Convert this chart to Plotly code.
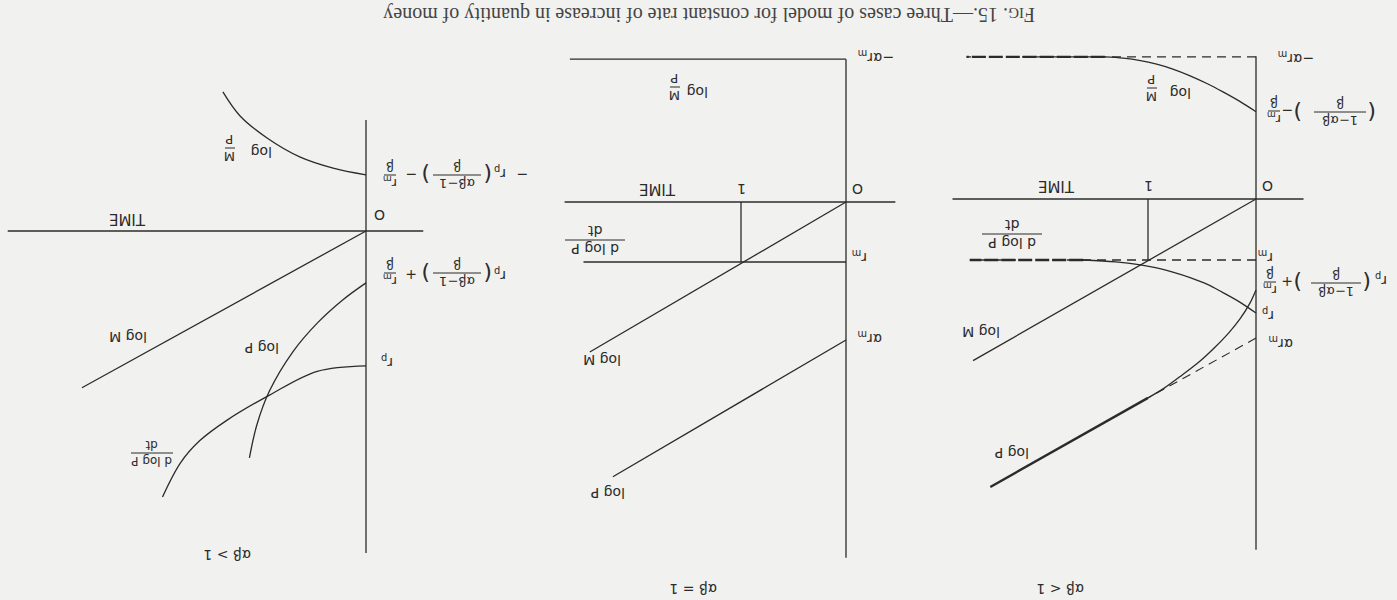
import plotly.graph_objects as go

W, H = 1397, 600
INK = "#2b2b2b"
PAPER = "#f1f1ef"
LABEL_FONT = "DejaVu Sans"
CAPTION_FONT = "Liberation Serif"

# --- data: t in time units, values in units of r_m ---

# alpha*beta < 1 (right-hand panel of the page)
lt1_axis_t = [0, 0]
lt1_axis_v = [-2.34, 5.75]
lt1_time_t = [-0.44, 2.81]
lt1_time_v = [0, 0]
lt1_one_t = [1, 1]
lt1_one_v = [0, 1.0]
lt1_logm_t = [0, 2.62]
lt1_logm_v = [0, 2.65]
lt1_rm_t = [0, 2.65]
lt1_rm_v = [1.0, 1.0]
lt1_negarm_t = [0, 2.68]
lt1_negarm_v = [-2.33, -2.33]
lt1_mp_t = [0, 0.15, 0.31, 0.45, 0.61, 0.77, 0.92, 1.07, 1.23, 1.40]
lt1_mp_v = [-1.43, -1.60, -1.76, -1.89, -2.02, -2.13, -2.21, -2.27, -2.31, -2.33]
lt1_mp_tail_t = [1.40, 2.68]
lt1_mp_tail_v = [-2.33, -2.33]
lt1_dp_t = [0, 0.15, 0.31, 0.45, 0.61, 0.77, 0.92, 1.07, 1.30, 1.60]
lt1_dp_v = [1.87, 1.69, 1.53, 1.40, 1.29, 1.20, 1.13, 1.08, 1.03, 1.0]
lt1_dp_tail_t = [1.60, 2.65]
lt1_dp_tail_v = [1.0, 1.0]
lt1_logp_t = [0, 0.06, 0.15, 0.25, 0.38, 0.52, 0.68, 0.85, 1.0]
lt1_logp_v = [1.49, 1.72, 1.97, 2.19, 2.43, 2.66, 2.88, 3.10, 3.26]
lt1_logp_tail_t = [1.0, 2.46]
lt1_logp_tail_v = [3.26, 4.72]
lt1_asym_t = [0, 1.0]
lt1_asym_v = [2.28, 3.26]

# alpha*beta = 1 (middle panel)
eq1_axis_t = [0, 0]
eq1_axis_v = [-2.38, 5.93]
eq1_time_t = [-0.47, 2.68]
eq1_time_v = [0, 0]
eq1_one_t = [1, 1]
eq1_one_v = [0, 1.0]
eq1_logm_t = [0, 2.44]
eq1_logm_v = [0, 2.5]
eq1_rm_t = [0, 2.5]
eq1_rm_v = [1.0, 1.0]
eq1_mp_t = [0, 2.63]
eq1_mp_v = [-2.38, -2.38]
eq1_logp_t = [0, 2.22]
eq1_logp_v = [2.30, 4.58]

# alpha*beta > 1 (left-hand panel of the page)
gt1_axis_t = [0, 0]
gt1_axis_v = [-1.82, 5.28]
gt1_time_t = [-0.54, 3.38]
gt1_time_v = [0, 0]
gt1_logm_t = [0, 2.68]
gt1_logm_v = [0, 2.57]
gt1_mp_t = [0, 0.31, 0.62, 0.93, 1.19, 1.35]
gt1_mp_v = [-0.92, -1.03, -1.21, -1.52, -1.89, -2.28]
gt1_logp_t = [0, 0.22, 0.46, 0.69, 0.91, 1.03, 1.10]
gt1_logp_v = [0.85, 1.13, 1.51, 1.98, 2.62, 3.18, 3.72]
gt1_dp_t = [0, 0.46, 0.91, 1.31, 1.57, 1.75, 1.92]
gt1_dp_v = [2.21, 2.30, 2.69, 3.10, 3.44, 3.80, 4.36]

caption = "F<span style='font-size:15px'>IG</span>. 15.\u2014Three cases of model for constant rate of increase in quantity of money"

# panel origin (px) and px per unit; page is printed upside down so both axes run reversed
PANELS = {
    "": (1256, 199, 108, 61),
    "2": (846, 202, 105, 60),
    "3": (366, 231, 106, 61),
}


def add_line(fig, ax, t, v, dash="solid", width=1.3, smooth=False):
    fig.add_trace(go.Scatter(
        x=t, y=v, mode="lines",
        line=dict(color=INK, width=width, dash=dash, shape="spline" if smooth else "linear"),
        xaxis="x" + ax, yaxis="y" + ax, hoverinfo="skip", showlegend=False,
    ))


def label(fig, text, px, py, size=14, family=LABEL_FONT, color=INK):
    fig.add_annotation(
        x=px / W, y=1 - py / H, xref="paper", yref="paper", text=text,
        showarrow=False, textangle=180, xanchor="center", yanchor="middle",
        font=dict(size=size, color=color, family=family),
    )


def frac(fig, num, den, px, py, bar, size=13):
    label(fig, num + "<br>" + den, px, py, size)
    fig.add_shape(type="line", xref="paper", yref="paper",
                  x0=(px - bar / 2) / W, x1=(px + bar / 2) / W,
                  y0=1 - py / H, y1=1 - py / H, line=dict(color=INK, width=1))


def build():
    fig = go.Figure()
    dash = "9px,6px"

    # alpha*beta < 1
    add_line(fig, "", lt1_axis_t, lt1_axis_v)
    add_line(fig, "", lt1_time_t, lt1_time_v)
    add_line(fig, "", lt1_one_t, lt1_one_v)
    add_line(fig, "", lt1_logm_t, lt1_logm_v)
    add_line(fig, "", lt1_rm_t, lt1_rm_v, dash=dash)
    add_line(fig, "", lt1_negarm_t, lt1_negarm_v, dash=dash)
    add_line(fig, "", lt1_mp_t, lt1_mp_v, smooth=True)
    add_line(fig, "", lt1_mp_tail_t, lt1_mp_tail_v, width=2.4, dash="14px,3px")
    add_line(fig, "", lt1_dp_t, lt1_dp_v, smooth=True)
    add_line(fig, "", lt1_dp_tail_t, lt1_dp_tail_v, width=2.4, dash="14px,3px")
    add_line(fig, "", lt1_logp_t, lt1_logp_v, smooth=True)
    add_line(fig, "", lt1_logp_tail_t, lt1_logp_tail_v, width=2.4)
    add_line(fig, "", lt1_asym_t, lt1_asym_v, dash=dash, width=1.1)

    # alpha*beta = 1
    add_line(fig, "2", eq1_axis_t, eq1_axis_v)
    add_line(fig, "2", eq1_time_t, eq1_time_v)
    add_line(fig, "2", eq1_one_t, eq1_one_v)
    add_line(fig, "2", eq1_logm_t, eq1_logm_v)
    add_line(fig, "2", eq1_rm_t, eq1_rm_v)
    add_line(fig, "2", eq1_mp_t, eq1_mp_v)
    add_line(fig, "2", eq1_logp_t, eq1_logp_v)

    # alpha*beta > 1
    add_line(fig, "3", gt1_axis_t, gt1_axis_v)
    add_line(fig, "3", gt1_time_t, gt1_time_v)
    add_line(fig, "3", gt1_logm_t, gt1_logm_v)
    add_line(fig, "3", gt1_mp_t, gt1_mp_v, smooth=True)
    add_line(fig, "3", gt1_logp_t, gt1_logp_v, smooth=True)
    add_line(fig, "3", gt1_dp_t, gt1_dp_v, smooth=True)

    axes = {}
    for s, (ox, oy, sx, sy) in PANELS.items():
        axes["xaxis" + s] = dict(domain=[0, 1], range=[ox / sx, (ox - W) / sx],
                                 visible=False, anchor="y" + s, fixedrange=True)
        axes["yaxis" + s] = dict(domain=[0, 1], range=[(H - oy) / sy, -oy / sy],
                                 visible=False, anchor="x" + s, fixedrange=True)
    fig.update_layout(**axes)

    rm = "r<sub>m</sub>"
    rp = "r<sub>p</sub>"

    # labels, right panel
    label(fig, "\u2212\u03b1" + rm, 1296, 58)
    frac(fig, rm, "\u03b2", 1274, 111, 12)
    label(fig, "\u2212", 1287, 111)
    label(fig, ")", 1298, 112, size=22)
    frac(fig, "1\u2212\u03b1\u03b2", "\u03b2", 1340, 112, 52)
    label(fig, "(", 1372, 112, size=22)
    label(fig, "O", 1268, 186)
    label(fig, "1", 1149, 186)
    label(fig, "TIME", 1057, 186, size=15)
    label(fig, "log", 1181, 93)
    frac(fig, "M", "P", 1152, 88, 10)
    frac(fig, "d log P", "dt", 1012, 234, 60, size=14)
    label(fig, rm, 1266, 257)
    frac(fig, rm, "\u03b2", 1270, 282, 12)
    label(fig, "+", 1287, 282)
    label(fig, ")", 1298, 283, size=22)
    frac(fig, "1\u2212\u03b1\u03b2", "\u03b2", 1336, 283, 50)
    label(fig, "(", 1367, 283, size=22)
    label(fig, rp, 1381, 280)
    label(fig, rp, 1268, 315)
    label(fig, "\u03b1" + rm, 1281, 343)
    label(fig, "log M", 981, 332)
    label(fig, "log P", 1012, 453)
    label(fig, "\u03b1\u03b2 < 1", 1060, 589)

    # labels, middle panel
    label(fig, "\u2212\u03b1" + rm, 876, 57)
    label(fig, "log", 698, 92)
    frac(fig, "M", "P", 675, 87, 10)
    label(fig, "O", 858, 189)
    label(fig, "1", 742, 189)
    label(fig, "TIME", 658, 189, size=15)
    frac(fig, "d log P", "dt", 595, 240, 60, size=14)
    label(fig, rm, 860, 257)
    label(fig, "\u03b1" + rm, 870, 338)
    label(fig, "log M", 602, 360)
    label(fig, "log P", 608, 493)
    label(fig, "\u03b1\u03b2 = 1", 693, 589)

    # labels, left panel
    label(fig, "log", 262, 152)
    frac(fig, "M", "P", 230, 148, 10)
    frac(fig, rm, "\u03b2", 390, 175, 12)
    label(fig, "\u2212", 411, 175)
    label(fig, ")", 425, 175, size=22)
    frac(fig, "\u03b1\u03b2\u22121", "\u03b2", 457, 175, 48)
    label(fig, "(", 488, 175, size=22)
    label(fig, rp, 500, 173)
    label(fig, "\u2212", 522, 175)
    label(fig, "O", 380, 215)
    label(fig, "TIME", 128, 219, size=15)
    frac(fig, rm, "\u03b2", 390, 273, 12)
    label(fig, "+", 411, 275)
    label(fig, ")", 425, 274, size=22)
    frac(fig, "\u03b1\u03b2\u22121", "\u03b2", 457, 273, 48)
    label(fig, "(", 487, 274, size=22)
    label(fig, rp, 500, 275)
    label(fig, rp, 387, 362)
    label(fig, "log M", 128, 337)
    label(fig, "log P", 262, 348)
    frac(fig, "d log P", "dt", 152, 453, 42, size=12)
    label(fig, "\u03b1\u03b2 > 1", 227, 555)

    label(fig, caption, 709, 14, size=20, family=CAPTION_FONT, color="#444444")

    fig.update_layout(
        width=W, height=H, margin=dict(l=0, r=0, t=0, b=0),
        paper_bgcolor=PAPER, plot_bgcolor="rgba(0,0,0,0)", showlegend=False,
    )
    return fig


def main():
    fig = build()
    fig.write_html("out.html", config={"displayModeBar": False},
                   post_script="document.body.style.margin='0';")


if __name__ == "__main__":
    main()
